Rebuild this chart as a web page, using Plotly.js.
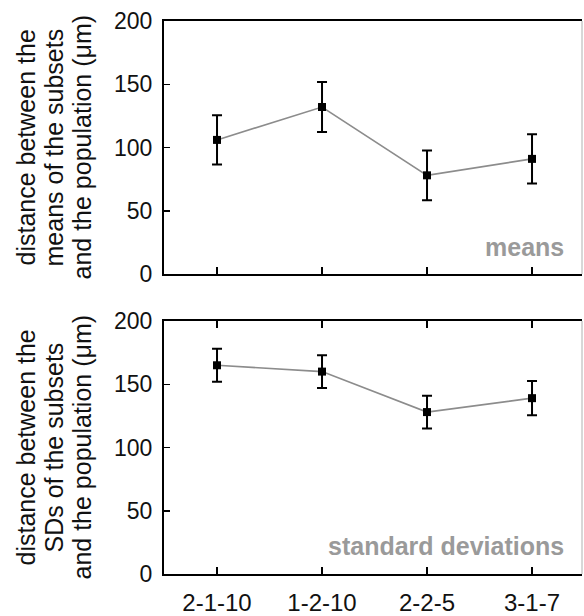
<!DOCTYPE html>
<html>
<head>
<meta charset="utf-8">
<script src="https://cdn.plot.ly/plotly-3.0.1.min.js"></script>
<style>html,body{margin:0;padding:0;background:#fff;}#chart{width:584px;height:616px;}</style>
</head>
<body>
<div id="chart"></div>
<script>
const categories = ['2-1-10', '1-2-10', '2-2-5', '3-1-7'];
const meansValues = [106, 132, 78, 91];
const meansErrors = [19.5, 19.7, 19.7, 19.5];
const sdValues = [165, 160, 128, 139];
const sdErrors = [13, 13, 13, 13.5];
const yTickVals = [0, 50, 100, 150, 200];
const topTitleLines = ['distance between the', 'means of the subsets', 'and the population (\u03bcm)'];
const bottomTitleLines = ['distance between the', 'SDs of the subsets', 'and the population (\u03bcm)'];

const FONT = 'Liberation Sans, Arial, Helvetica, sans-serif';

function seriesTrace(vals, errs, xa, ya) {
  return {
    type: 'scatter', mode: 'lines+markers',
    x: categories, y: vals, xaxis: xa, yaxis: ya,
    line: {color: '#8c8c8c', width: 1.6},
    marker: {symbol: 'square', size: 8, color: '#000'},
    error_y: {type: 'data', array: errs, visible: true, color: '#000', thickness: 2, width: 5},
    showlegend: false, hoverinfo: 'x+y'
  };
}

const data = [
  seriesTrace(meansValues, meansErrors, 'x', 'y'),
  seriesTrace(sdValues, sdErrors, 'x2', 'y2')
];

function xAxis(anchor, mirror, showLabels) {
  return {
    type: 'category', categoryorder: 'array', categoryarray: categories,
    anchor: anchor, range: [-0.505, 3.476],
    showline: true, linecolor: '#000', linewidth: 2, mirror: mirror,
    ticks: 'inside', ticklen: 7, tickwidth: 2, tickcolor: '#000',
    showticklabels: showLabels, tickfont: {family: FONT, size: 24, color: '#111'},
    ticklabelstandoff: 6,
    showgrid: false, zeroline: false, fixedrange: true
  };
}
function yAxis(anchor, domain) {
  return {
    anchor: anchor, domain: domain, range: [0, 200],
    tickvals: yTickVals, ticktext: yTickVals.map(String),
    showline: true, linecolor: '#000', linewidth: 2, mirror: false,
    ticks: 'inside', ticklen: 6, tickwidth: 1.5, tickcolor: '#000',
    tickfont: {family: FONT, size: 23, color: '#111'},
    ticklabelstandoff: 5,
    showgrid: false, zeroline: false, fixedrange: true
  };
}

const annotations = [];
function titleLines(lines, yref) {
  const shifts = [-138, -110, -82];
  lines.forEach((t, i) => {
    annotations.push({
      text: t, textangle: -90, xref: 'paper', x: 0, xanchor: 'center', xshift: shifts[i],
      yref: yref, y: 0.5, yanchor: 'middle', showarrow: false,
      font: {family: FONT, size: 25, color: '#111'}
    });
  });
}
titleLines(topTitleLines, 'y domain');
titleLines(bottomTitleLines, 'y2 domain');
annotations.push({
  text: '<b>means</b>', xref: 'x domain', x: 0.962, xanchor: 'right',
  yref: 'y domain', y: 0.108, yanchor: 'middle', showarrow: false,
  font: {family: FONT, size: 25, color: '#9a9a9a'}
});
annotations.push({
  text: '<b>standard deviations</b>', xref: 'x2 domain', x: 0.962, xanchor: 'right',
  yref: 'y2 domain', y: 0.112, yanchor: 'middle', showarrow: false,
  font: {family: FONT, size: 25, color: '#9a9a9a'}
});

const shapes = [
  {type: 'line', xref: 'x domain', yref: 'y domain', x0: 1, x1: 1, y0: 0, y1: 1, line: {color: '#b0b0b0', width: 1}},
  {type: 'line', xref: 'x2 domain', yref: 'y2 domain', x0: 1, x1: 1, y0: 0, y1: 1, line: {color: '#b0b0b0', width: 1}}
];

const layout = {
  width: 584, height: 616,
  margin: {l: 164, r: 2, t: 21, b: 42},
  paper_bgcolor: '#fff', plot_bgcolor: '#fff',
  font: {family: FONT},
  xaxis: xAxis('y', true, false),
  yaxis: yAxis('x', [0.5425, 1]),
  xaxis2: xAxis('y2', 'ticks', true),
  yaxis2: yAxis('x2', [0, 0.4575]),
  annotations: annotations,
  shapes: shapes
};

Plotly.newPlot('chart', data, layout, {displayModeBar: false, staticPlot: true});
</script>
</body>
</html>
